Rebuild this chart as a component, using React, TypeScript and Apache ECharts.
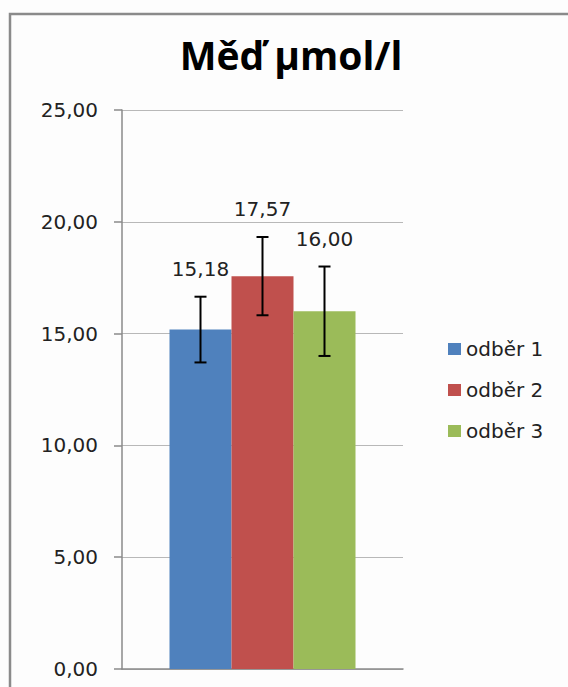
import React, { useEffect, useRef } from "react";
import * as echarts from "echarts";

const seriesNames = ["odběr 1", "odběr 2", "odběr 3"];
const seriesValues = [15.18, 17.57, 16.0];
const seriesErrors = [1.47, 1.75, 2.0];
const seriesColors = ["#4F81BD", "#C0504D", "#9BBB59"];
const categories = [""];
const yTicks = { min: 0, max: 25, interval: 5 };

const BAR_W = 62;
const fmt = (v: number) => v.toFixed(2).replace(".", ",");

export default function App() {
  const ref = useRef<HTMLDivElement>(null);
  useEffect(() => {
    document.body.style.margin = "0";
    const chart = echarts.init(ref.current!, null, { renderer: "svg" });
    const font = "DejaVu Sans";
    const fs = 20;
    const bars = seriesNames.map((name, i) => ({
      name,
      type: "bar",
      data: [seriesValues[i]],
      barWidth: BAR_W,
      barGap: "0%",
      itemStyle: { color: seriesColors[i] },
      z: 2,
    }));
    const errs = seriesNames.map((name, i) => ({
      name: name + " err",
      type: "custom",
      z: 5,
      data: [[0, seriesValues[i], seriesErrors[i]]],
      encode: { x: 0, y: 1 },
      renderItem: (params: any, api: any) => {
        const v = api.value(1);
        const e = api.value(2);
        const top = api.coord([api.value(0), v + e]);
        const bot = api.coord([api.value(0), v - e]);
        const x = top[0] + (i - 1) * BAR_W;
        const st = { stroke: "#000", lineWidth: 2 };
        return {
          type: "group",
          children: [
            { type: "line", shape: { x1: x, y1: top[1], x2: x, y2: bot[1] }, style: st },
            { type: "line", shape: { x1: x - 6, y1: top[1], x2: x + 6, y2: top[1] }, style: st },
            { type: "line", shape: { x1: x - 6, y1: bot[1], x2: x + 6, y2: bot[1] }, style: st },
            {
              type: "text",
              style: {
                x: x,
                y: top[1] - 28,
                text: fmt(v),
                fill: "#222",
                font: `${fs}px "${font}"`,
                textAlign: "center",
                textVerticalAlign: "middle",
              },
            },
          ],
        };
      },
    }));
    chart.setOption({
      animation: false,
      backgroundColor: "#fdfdfd",
      title: {
        text: "Měď µmol/l",
        left: 286,
        top: 30,
        textAlign: "center",
        textStyle: { fontFamily: "Open Sans", fontWeight: "bold", fontSize: 39, color: "#000" },
      },
      graphic: [
        {
          type: "rect",
          shape: { x: 10, y: 14, width: 620, height: 720 },
          style: { fill: "none", stroke: "#8a8a8a", lineWidth: 2.5 },
          silent: true,
        },
      ],
      legend: {
        data: seriesNames,
        orient: "vertical",
        left: 443,
        top: 334,
        itemWidth: 13,
        itemHeight: 12,
        itemGap: 21,
        itemStyle: { borderWidth: 0 },
        icon: "rect",
        textStyle: { fontFamily: font, fontSize: fs, color: "#222" },
      },
      grid: { left: 122, right: 165, top: 110, bottom: 18, containLabel: false },
      xAxis: {
        type: "category",
        data: categories,
        axisLine: { lineStyle: { color: "#8a8a8a", width: 1.5 } },
        axisTick: { show: false },
        axisLabel: { show: false },
      },
      yAxis: {
        type: "value",
        min: yTicks.min,
        max: yTicks.max,
        interval: yTicks.interval,
        axisLine: { show: true, lineStyle: { color: "#8a8a8a", width: 1.5 } },
        axisTick: { show: true, length: 8, lineStyle: { color: "#8a8a8a", width: 1.5 } },
        splitLine: { lineStyle: { color: "#b8b8b8", width: 1 } },
        axisLabel: {
          margin: 24,
          formatter: (v: number) => fmt(v),
          fontFamily: font,
          fontSize: fs,
          color: "#222",
        },
      },
      series: [...bars, ...errs],
    });
    return () => chart.dispose();
  }, []);
  return <div ref={ref} style={{ width: 568, height: 687 }} />;
}
